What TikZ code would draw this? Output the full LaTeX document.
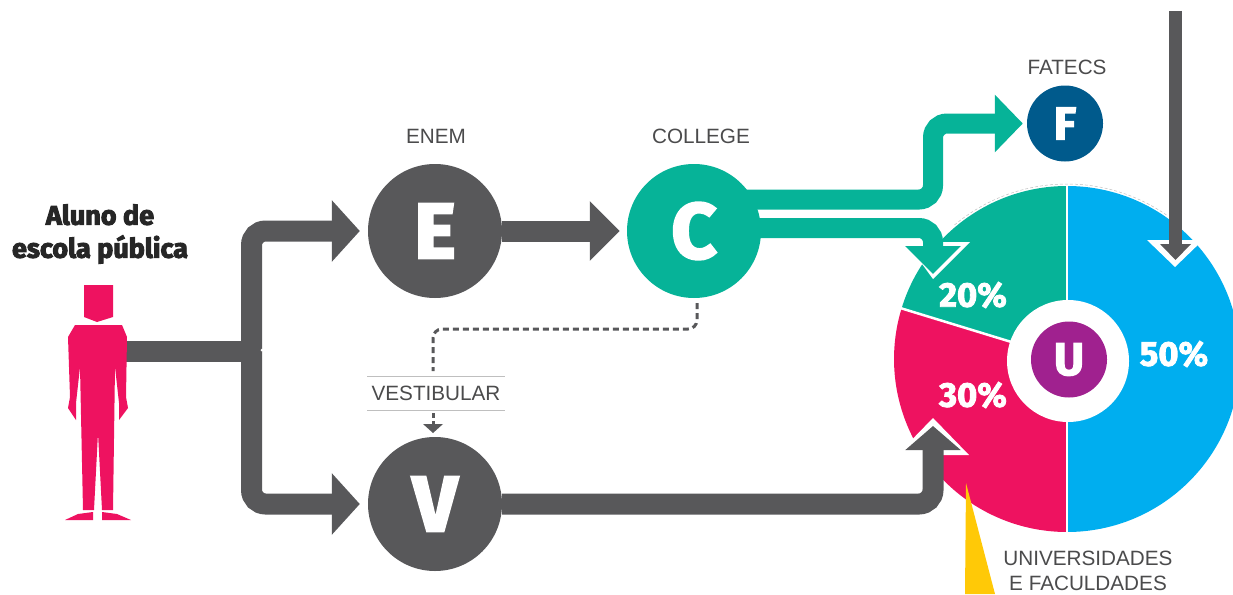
\documentclass[tikz,border=0pt]{standalone}
\usepackage{fontspec}
\setmainfont{Liberation Sans}
\newfontfamily\heavy[FakeBold=2.5]{Fira Sans Bold}
\newfontfamily\heavyb[FakeBold=3.5]{Fira Sans Bold}
\usetikzlibrary{arrows.meta,calc}
\definecolor{gr}{HTML}{58585A}
\definecolor{tl}{HTML}{06B398}
\definecolor{bl}{HTML}{00AEEF}
\definecolor{pk}{HTML}{EE1260}
\definecolor{pu}{HTML}{A0218F}
\definecolor{nv}{HTML}{005A8C}
\definecolor{ye}{HTML}{FFC907}
\pgfdeclarelayer{bg}
\pgfsetlayers{bg,main}
\tikzset{
 hub/.style={circle,minimum size=134pt,inner sep=0pt,text=white,font=\heavyb\fontsize{78}{78}\selectfont},
 grayhub/.style={hub,fill=gr},
 tealhub/.style={hub,fill=tl},
 small/.style={hub,minimum size=76pt,font=\heavy\fontsize{46}{46}\selectfont},
 lab/.style={text=gr!85!black,font=\fontsize{20.7}{25.5}\selectfont,align=center,inner sep=0pt},
 pct/.style={text=white,font=\heavy\fontsize{34.5}{34.5}\selectfont,inner sep=0pt},
 fatg/.style={draw=gr,line width=21pt,rounded corners=14pt},
 fatt/.style={draw=tl,line width=20pt,rounded corners=14pt},
 headg/.style={-{Triangle[length=28pt,width=60pt,fill=gr]}},
 headt/.style={-{Triangle[length=28pt,width=56pt,fill=tl]}},
}
\begin{document}
\begin{tikzpicture}[x=1pt,y=-1pt]
\useasboundingbox (0,0) rectangle (1233,594);
% pie
\def\cx{1067}\def\cy{359}\def\R{173}
\coordinate (pie) at (\cx,\cy);
\fill[bl] (pie) -- (\cx,\cy-\R) arc[start angle=90,end angle=-90,radius=\R pt] -- cycle;
\fill[tl] (pie) -- (\cx,\cy-\R) arc[start angle=90,end angle=163,radius=\R pt] -- cycle;
\fill[pk] (pie) -- ($(pie)+(163:\R pt)$) arc[start angle=163,end angle=270,radius=\R pt] -- cycle;
\draw[white,line width=2.5pt] (\cx,\cy-\R-2) -- (\cx,\cy+\R+2);
\draw[white,line width=2.5pt] (pie) -- ($(pie)+(163:\R pt+3pt)$);
\draw[gray!50,densely dashed,line width=.5pt] ($(pie)+(130:175pt)$) arc[start angle=130,end angle=55,radius=175pt];
\fill[white] (1068,361) circle[radius=61pt];
% nodes
\node[grayhub] (E) at (435,231) {E};
\node[tealhub] (C) at (694,231) {C};
\node[grayhub] (V) at (435,504) {V};
\node[small,fill=nv] (F) at (1065,123.5) {F};
\node[small,fill=pu] (U) at (1069,359.5) {U};
% person
\fill[pk] (84,285) -- (113,285) -- (113,317) -- (97,322) -- (84,317) -- cycle;
\fill[pk] (75,325) -- (122,325) -- (127,337) -- (126,397) -- (128,408) -- (119,420)
 -- (119,403) -- (115,367) -- (113,510) -- (102,510) -- (98,433) -- (94,510) -- (83,510)
 -- (80,367) -- (76,403) -- (76,420) -- (68,408) -- (70,397) -- (68,337) -- cycle;
\fill[pk] (65,520) -- (78,514) -- (93,512) -- (93,520) -- cycle;
\fill[pk] (102,512) -- (117,514) -- (131,520) -- (102,520) -- cycle;
\coordinate (person) at (120,351);
\coordinate (trunk) at (251.5,351);
% connectors
\begin{pgfonlayer}{bg}
\draw[fatg,headg,shorten >=8pt] (trunk) |- (E.west);
\draw[fatg,headg,shorten >=8pt] (trunk) |- (V.west);
\draw[draw=gr,line width=21pt] (person) -- (trunk);
\draw[draw=gr,line width=21pt,-{Triangle[length=30pt,width=58pt,fill=gr]},shorten >=7pt] (E) -- (C);
\end{pgfonlayer}
\fill[white] (262,350) circle[radius=1.5pt];
% teal arrows
\begin{pgfonlayer}{bg}
\draw[fatt,headt,shorten >=4pt] (694,199.5) -- (933,199.5) |- (F.west);
\end{pgfonlayer}
\fill[white] (906,242) -- (970,242) -- (933,279) -- cycle;
\coordinate (t20) at (933,274);
\begin{pgfonlayer}{bg}
\draw[fatt] (694,228) -- (900,228);
\end{pgfonlayer}
\draw[draw=tl,line width=20pt,rounded corners=14pt,-{Triangle[length=28pt,width=54pt,fill=tl]}] (760,228) -| (t20);
% gray into pie
\fill[white] (897,455) -- (969,455) -- (933,418) -- cycle;
\coordinate (g30) at (933,426);
\draw[fatg,-{Triangle[length=24pt,width=54pt,fill=gr]}] (V.east) -| (g30);
% top arrow
\fill[white] (1147,240) -- (1203,240) -- (1175,267) -- cycle;
\coordinate (top) at (1175.5,11);
\coordinate (g50) at (1175.5,260);
\draw[draw=gr,line width=13pt,-{Triangle[length=16pt,width=30pt,fill=gr]}] (top) -- (g50);
% yellow
\fill[ye] (966,483) -- (995,594) -- (965,594) -- cycle;
% dashed
\draw[gr,line width=3pt,dash pattern=on 6pt off 4pt,rounded corners=9pt] (C.south) ++(3,5) |- (433,329) -- (433,371);
\draw[gr,line width=3pt,dash pattern=on 5pt off 3pt] (433,413) -- (433,424);
\fill[gr] (423,424) -- (443,424) -- (433,433) -- cycle;
\draw[gray!50,line width=.5pt] (367,376) -- (505,376) (367,410) -- (505,410);
% labels
\node[lab] (enem) at (436,136) {ENEM};
\node[lab] (college) at (701,136) {COLLEGE};
\node[lab] (fatecs) at (1067,67) {FATECS};
\node[lab] (vest) at (436,393) {VESTIBULAR};
\node[lab] (univ) at (1088,571) {UNIVERSIDADES\\E FACULDADES};
\node[pct] (p20) at (973,295) {20\%};
\node[pct] (p50) at (1174,354) {50\%};
\node[pct] (p30) at (973,395) {30\%};
\node[inner sep=0pt,align=center,font=\heavyb\fontsize{27}{33}\selectfont,text=black!85] (aluno) at (100,234) {Aluno de\\escola pública};
\end{tikzpicture}
\end{document}
